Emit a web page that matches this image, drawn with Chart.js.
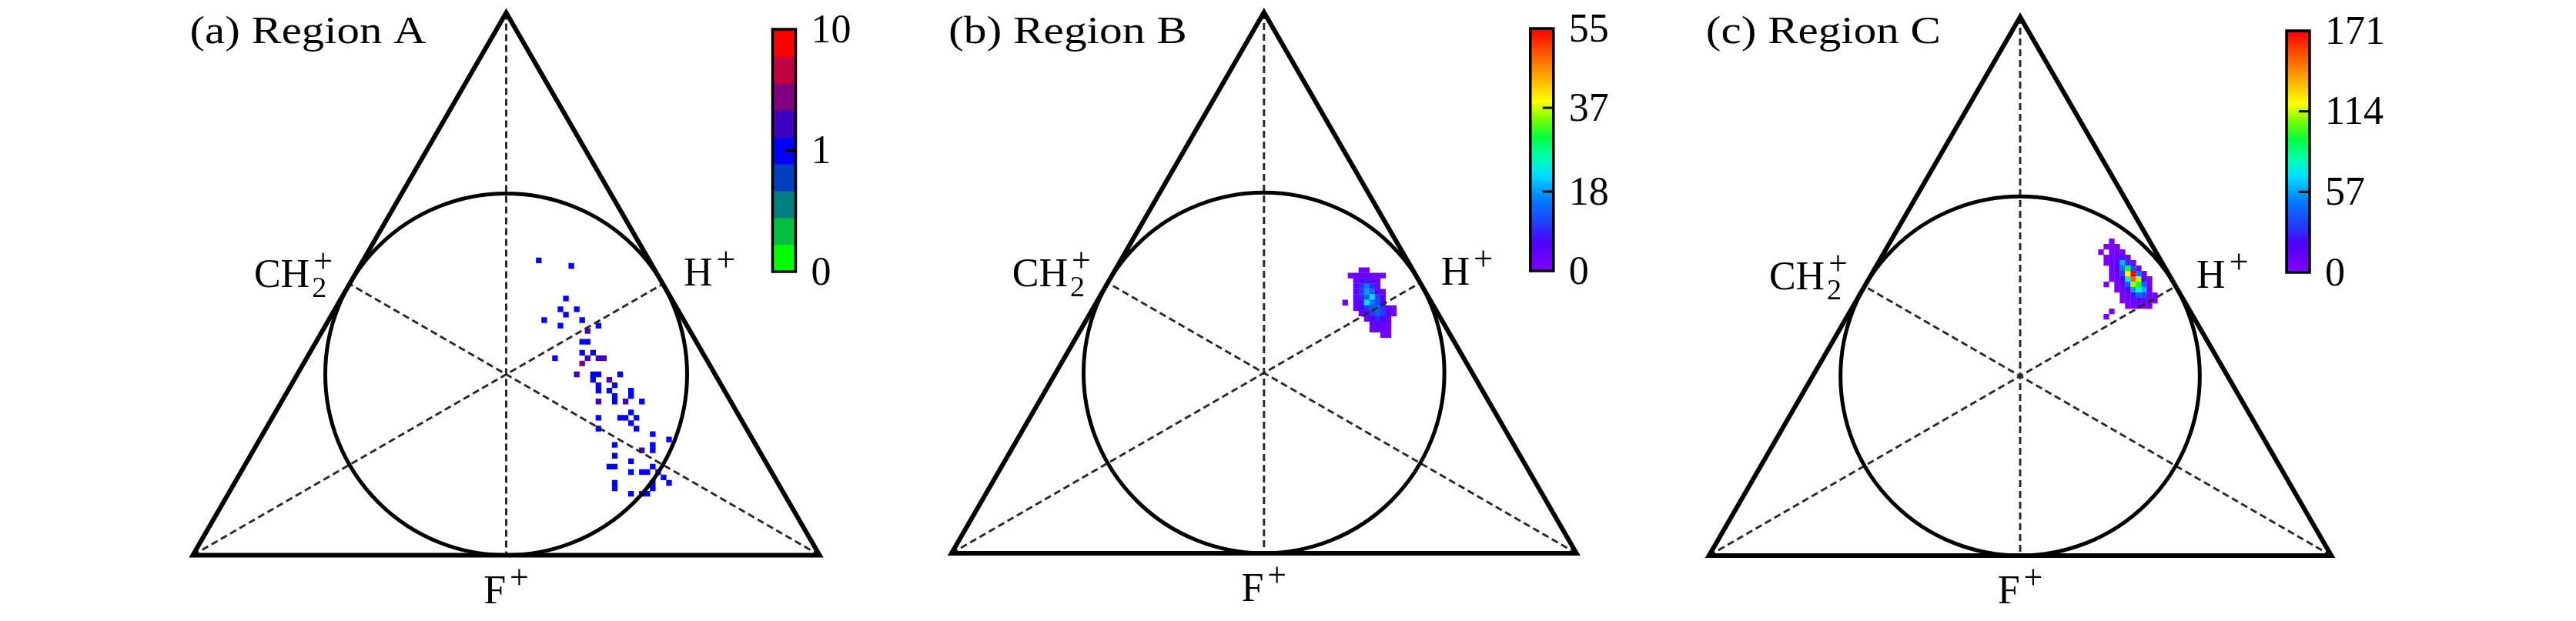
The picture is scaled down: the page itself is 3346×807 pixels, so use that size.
<!DOCTYPE html>
<html>
<head>
<meta charset="utf-8">
<script src="https://cdn.jsdelivr.net/npm/chart.js@4.4.0/dist/chart.umd.min.js"></script>
<style>
  html, body { margin: 0; padding: 0; background: #fff; }
  #wrap { position: relative; width: 3346px; height: 807px; }
  #wrap canvas { position: absolute; left: 0; top: 0; }
</style>
</head>
<body>
<div id="wrap">
  <canvas id="panelA" width="3346" height="807"></canvas>
  <canvas id="panelB" width="3346" height="807"></canvas>
  <canvas id="panelC" width="3346" height="807"></canvas>
</div>
<script>
// Títulos y etiquetas
var titulos = ['(a) Region A', '(b) Region B', '(c) Region C'];
var etiquetaIzq = ['CH', '2', '+'];
var etiquetaDer = ['H', '', '+'];
var etiquetaAbajo = ['F', '', '+'];

// Ticks de las barras de color
var ticksA = [0, 1, 10];
var ticksB = [0, 18, 37, 55];
var ticksC = [0, 57, 114, 171];

// Región A: cuentas sueltas [ix, iy, cuentas] en bins de 0.01
var cuentasA = [
  [6, 21, 1], [12, 20, 1], [11, 14, 1], [10, 12, 1], [11, 11, 1], [13, 12, 1],
  [7, 10, 1], [10, 9, 1], [14, 10, 1], [17, 9, 1], [15, 8, 2], [14, 6, 1],
  [15, 6, 1], [14, 4, 1], [16, 4, 1], [9, 3, 1], [15, 3, 2], [17, 3, 2],
  [18, 3, 2], [14, 2, 3], [13, 0, 2], [16, 0, 1], [17, 0, 1], [21, 0, 1],
  [16, -1, 1], [19, -1, 2], [20, -2, 1], [17, -2, 1], [17, -3, 1], [19, -3, 1],
  [20, -4, 1], [20, -5, 1], [23, -3, 1], [23, -4, 1], [17, -5, 2], [22, -5, 2],
  [25, -5, 1], [17, -8, 1], [21, -8, 1], [22, -8, 1], [23, -7, 1], [24, -8, 1],
  [23, -9, 1], [24, -10, 1], [17, -10, 1], [27, -11, 1], [30, -12, 1], [20, -13, 1],
  [25, -14, 2], [27, -14, 1], [27, -13, 1], [20, -15, 1], [23, -16, 1], [27, -17, 1],
  [28, -18, 1], [19, -17, 1], [20, -17, 1], [23, -18, 1], [25, -18, 1], [26, -18, 1],
  [29, -19, 1], [30, -20, 1], [20, -20, 1], [20, -21, 1], [27, -20, 1], [27, -21, 1],
  [23, -22, 1], [25, -22, 1], [26, -22, 1]
];

// Región B: mancha densa, filas de arriba hacia abajo desde el bin inicioB
var inicioB = [16, 19];
var cuentasB = [
  [0, 0, 2, 2, 0, 0, 0, 0, 0],
  [2, 3, 3, 3, 2, 2, 2, 0, 0],
  [0, 3, 6, 8, 5, 3, 0, 0, 0],
  [0, 4, 10, 16, 10, 4, 0, 0, 0],
  [0, 5, 10, 18, 14, 6, 3, 0, 0],
  [0, 4, 9, 14, 22, 11, 5, 0, 0],
  [0, 3, 8, 22, 15, 12, 6, 0, 0],
  [0, 2, 6, 10, 13, 14, 10, 4, 2],
  [0, 0, 3, 6, 10, 13, 11, 5, 2],
  [0, 0, 0, 3, 6, 9, 7, 3, 0],
  [0, 0, 0, 0, 3, 5, 4, 2, 0],
  [0, 0, 0, 0, 2, 3, 3, 2, 0],
  [0, 0, 0, 0, 0, 0, 2, 2, 0]
];
var sueltasB = [[15, 13, 2]];

// Región C
var inicioC = [15, 25];
var cuentasC = [
  [0, 0, 2, 0, 0, 0, 0, 0, 0, 0, 0],
  [0, 3, 3, 3, 0, 0, 0, 0, 0, 0, 0],
  [2, 0, 4, 5, 4, 0, 0, 0, 0, 0, 0],
  [0, 3, 5, 10, 25, 8, 0, 0, 0, 0, 0],
  [0, 3, 6, 18, 60, 30, 5, 0, 0, 0, 0],
  [0, 0, 5, 15, 50, 95, 40, 5, 0, 0, 0],
  [0, 0, 4, 10, 35, 120, 171, 50, 5, 0, 0],
  [0, 0, 3, 6, 20, 70, 150, 115, 25, 4, 0],
  [0, 2, 0, 4, 10, 40, 110, 95, 45, 6, 0],
  [0, 0, 0, 3, 6, 20, 55, 75, 60, 10, 0],
  [0, 0, 0, 0, 4, 10, 25, 40, 35, 8, 3],
  [0, 0, 0, 0, 3, 5, 10, 15, 12, 5, 3],
  [0, 0, 0, 0, 0, 3, 4, 5, 4, 3, 0],
  [0, 0, 2, 0, 0, 0, 0, 0, 0, 0, 0],
  [0, 2, 0, 0, 0, 0, 0, 0, 0, 0, 0]
];

var BIN = 0.01;
var SQ3 = Math.sqrt(3);
var FUENTE = '"Liberation Serif", "DejaVu Serif", serif';

// pasar listas a puntos {x, y, v}
function puntosSueltos(lista) {
  return lista.map(function (p) { return { x: p[0] * BIN, y: p[1] * BIN, v: p[2] }; });
}
function puntosMalla(inicio, filas) {
  var out = [];
  filas.forEach(function (fila, r) {
    fila.forEach(function (v, c) {
      if (v > 0) out.push({ x: (inicio[0] + c) * BIN, y: (inicio[1] - r) * BIN, v: v });
    });
  });
  return out;
}

// Colores: barra por bandas (A) y arcoíris continuo (B, C)
var bandasA = ['#00ff00', '#00c040', '#008080', '#0040c0', '#0000ff', '#4000c0', '#800080', '#c00040', '#ff0000'];
function posA(v) { return v <= 1 ? v / 2 : 0.5 + Math.log10(v) / 2; }
function colorA(v) { return bandasA[Math.min(8, Math.floor(posA(v) * 9))]; }

var paradas = [
  [0, [128, 0, 255]], [0.12, [80, 0, 255]], [0.2, [32, 64, 255]], [0.3, [0, 128, 255]],
  [0.4, [0, 224, 255]], [0.47, [0, 255, 176]], [0.55, [0, 255, 64]], [0.63, [128, 255, 0]],
  [0.7, [255, 255, 0]], [0.83, [255, 144, 0]], [1, [255, 0, 0]]
];
function arcoiris(t) {
  t = Math.max(0, Math.min(1, t));
  for (var i = 1; i < paradas.length; i++) {
    if (t <= paradas[i][0]) {
      var a = paradas[i - 1], b = paradas[i];
      var f = (t - a[0]) / (b[0] - a[0]);
      var c = a[1].map(function (k, j) { return Math.round(k + (b[1][j] - k) * f); });
      return 'rgb(' + c.join(',') + ')';
    }
  }
  return 'rgb(255,0,0)';
}

// texto con sub/superíndice
function dibujaEtiqueta(ctx, partes, x, y, ancla) {
  ctx.font = '52px ' + FUENTE;
  var wb = ctx.measureText(partes[0]).width;
  ctx.font = '44px ' + FUENTE;
  var ws = Math.max(ctx.measureText(partes[1]).width, ctx.measureText(partes[2]).width);
  var total = wb + 5 + ws;
  var x0 = ancla === 'right' ? x - total : ancla === 'center' ? x - total / 2 : x;
  ctx.fillStyle = '#000';
  ctx.textAlign = 'left';
  ctx.textBaseline = 'alphabetic';
  ctx.font = '52px ' + FUENTE;
  ctx.fillText(partes[0], x0, y);
  ctx.font = '38px ' + FUENTE;
  if (partes[1]) ctx.fillText(partes[1], x0 + wb + 3, y + 13);
  ctx.font = '44px ' + FUENTE;
  if (partes[2]) ctx.fillText(partes[2], x0 + wb + 5, y - 19);
}

// Marco del triángulo, círculo, medianas, textos y barra de color
var marco = {
  id: 'marco',
  afterDatasetsDraw: function (chart, args, o) {
    var ctx = chart.ctx, sx = chart.scales.x, sy = chart.scales.y;
    var P = function (a, b) { return [sx.getPixelForValue(a), sy.getPixelForValue(b)]; };
    var h = 1 / SQ3;
    var A = P(0, 2 / 3), L = P(-h, -1 / 3), R = P(h, -1 / 3);
    var mAbajo = P(0, -1 / 3), mDer = P(h / 2, 1 / 6), mIzq = P(-h / 2, 1 / 6);
    var C = P(0, 0);
    ctx.save();
    // medianas punteadas
    ctx.strokeStyle = '#2a2a2a';
    ctx.lineWidth = 3;
    ctx.setLineDash([9, 5]);
    [[A, mAbajo], [L, mDer], [R, mIzq]].forEach(function (s) {
      ctx.beginPath();
      ctx.moveTo(s[0][0], s[0][1]);
      ctx.lineTo(s[1][0], s[1][1]);
      ctx.stroke();
    });
    ctx.setLineDash([]);
    // círculo inscrito
    ctx.strokeStyle = '#000';
    ctx.lineWidth = 5;
    ctx.beginPath();
    ctx.ellipse(C[0], C[1], P(1 / 3, 0)[0] - C[0], C[1] - P(0, 1 / 3)[1], 0, 0, 2 * Math.PI);
    ctx.stroke();
    // triángulo
    ctx.lineWidth = 6;
    ctx.lineJoin = 'miter';
    ctx.beginPath();
    ctx.moveTo(A[0], A[1]);
    ctx.lineTo(L[0], L[1]);
    ctx.lineTo(R[0], R[1]);
    ctx.closePath();
    ctx.stroke();

    // etiquetas de los vértices
    dibujaEtiqueta(ctx, etiquetaIzq, mIzq[0] - 22, mIzq[1] + 4, 'right');
    dibujaEtiqueta(ctx, etiquetaDer, mDer[0] + 27, mDer[1] + 2, 'left');
    dibujaEtiqueta(ctx, etiquetaAbajo, mAbajo[0], mAbajo[1] + 62, 'center');

    // título (algo ensanchado como en la figura)
    ctx.font = '50px ' + FUENTE;
    var wt = ctx.measureText(o.titulo).width;
    ctx.save();
    ctx.translate(L[0] - 4, 56);
    ctx.scale(o.anchoTitulo / wt, 1);
    ctx.fillStyle = '#000';
    ctx.textAlign = 'left';
    ctx.textBaseline = 'alphabetic';
    ctx.fillText(o.titulo, 0, 0);
    ctx.restore();

    // barra de color
    var bx = C[0] + 346, bw = 30, bt = o.barraArriba, bb = o.barraAbajo;
    if (o.bandas) {
      var hb = (bb - bt) / o.bandas.length;
      o.bandas.forEach(function (col, i) {
        ctx.fillStyle = col;
        ctx.fillRect(bx, bb - (i + 1) * hb, bw, hb + 0.5);
      });
    } else {
      var g = ctx.createLinearGradient(0, bb, 0, bt);
      for (var k = 0; k <= 40; k++) g.addColorStop(k / 40, arcoiris(k / 40));
      ctx.fillStyle = g;
      ctx.fillRect(bx, bt, bw, bb - bt);
    }
    ctx.strokeStyle = '#000';
    ctx.lineWidth = 3.5;
    ctx.strokeRect(bx, bt, bw, bb - bt);
    ctx.font = '52px ' + FUENTE;
    ctx.textAlign = 'left';
    ctx.textBaseline = 'middle';
    ctx.fillStyle = '#000';
    o.ticks.forEach(function (t) {
      var ty = bb - o.pos(t) * (bb - bt);
      if (t !== o.ticks[0] && t !== o.ticks[o.ticks.length - 1]) {
        ctx.lineWidth = 3;
        ctx.beginPath();
        ctx.moveTo(bx + bw - 14, ty);
        ctx.lineTo(bx + bw, ty);
        ctx.stroke();
      }
      ctx.fillText(String(t), bx + bw + 20, ty + 3);
    });
    ctx.restore();
  }
};

// Configuración de cada panel
var paneles = [
  { id: 'panelA', cx: 657.5, base: 721.5, S: 705, datos: puntosSueltos(cuentasA), color: colorA,
    titulo: titulos[0], anchoTitulo: 307, ticks: ticksA, pos: posA, bandas: bandasA, barraArriba: 38, barraAbajo: 353 },
  { id: 'panelB', cx: 1641.8, base: 719, S: 703, datos: puntosMalla(inicioB, cuentasB).concat(puntosSueltos(sueltasB)),
    color: function (v) { return arcoiris(v / 55); },
    titulo: titulos[1], anchoTitulo: 310, ticks: ticksB, pos: function (v) { return v / 55; }, bandas: null, barraArriba: 37, barraAbajo: 352 },
  { id: 'panelC', cx: 2624, base: 722, S: 700, datos: puntosMalla(inicioC, cuentasC),
    color: function (v) { return arcoiris(v / 171); },
    titulo: titulos[2], anchoTitulo: 305, ticks: ticksC, pos: function (v) { return v / 171; }, bandas: null, barraArriba: 40, barraAbajo: 354 }
];

paneles.forEach(function (p) {
  var half = p.S / SQ3;
  var ctx = document.getElementById(p.id).getContext('2d');
  new Chart(ctx, {
    type: 'scatter',
    data: {
      datasets: [{
        data: p.datos,
        pointStyle: 'rect',
        borderWidth: 0,
        pointRadius: function (c) {
          var s = c.chart.scales.x;
          return Math.abs(s.getPixelForValue(BIN) - s.getPixelForValue(0)) / Math.SQRT2 + 0.2;
        },
        backgroundColor: function (c) { return c.raw ? p.color(c.raw.v) : '#000'; }
      }]
    },
    options: {
      responsive: false,
      animation: false,
      events: [],
      layout: { padding: { left: p.cx - half, right: 3346 - (p.cx + half), top: p.base - p.S, bottom: 807 - p.base } },
      scales: {
        x: { type: 'linear', min: -1 / SQ3, max: 1 / SQ3, display: false },
        y: { type: 'linear', min: -1 / 3, max: 2 / 3, display: false }
      },
      plugins: {
        legend: { display: false },
        tooltip: { enabled: false },
        marco: p
      }
    },
    plugins: [marco]
  });
});
</script>
</body>
</html>
